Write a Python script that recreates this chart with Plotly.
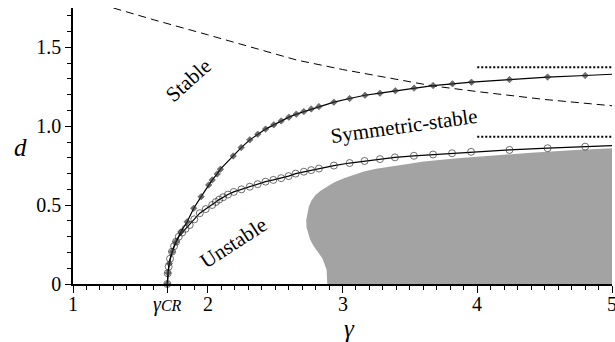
import plotly.graph_objects as go

# Symmetric-stable boundary (filled diamonds)
gam_sym = [1.70, 1.705, 1.715, 1.735, 1.765, 1.80, 1.847, 1.896, 1.951, 2.007, 2.033, 2.07, 2.094,
           2.189, 2.248, 2.312, 2.371, 2.429, 2.49, 2.545, 2.602, 2.657, 2.713, 2.768, 2.825, 2.936,
           3.053, 3.167, 3.278, 3.392, 3.531, 3.672, 3.816, 3.957, 4.239, 4.522, 4.801, 5.0]
d_sym = [0.0, 0.07, 0.13, 0.205, 0.268, 0.33, 0.395, 0.48, 0.554, 0.628, 0.66, 0.698, 0.728,
         0.812, 0.865, 0.914, 0.95, 0.982, 1.009, 1.034, 1.058, 1.077, 1.093, 1.11, 1.125, 1.153,
         1.176, 1.197, 1.21, 1.225, 1.242, 1.258, 1.269, 1.28, 1.296, 1.312, 1.322, 1.33]

# Unstable boundary (open circles)
gam_uns = [1.70, 1.703, 1.71, 1.72, 1.735, 1.75, 1.765, 1.785, 1.81, 1.835, 1.866, 1.90, 1.941,
           1.985, 2.033, 2.06, 2.085, 2.114, 2.15, 2.193, 2.25, 2.312, 2.37, 2.429, 2.487, 2.545,
           2.60, 2.652, 2.713, 2.768, 2.825, 2.936, 3.053, 3.164, 3.278, 3.389, 3.53, 3.672, 3.813,
           3.954, 4.239, 4.522, 4.801, 5.0]
d_uns = [0.0, 0.068, 0.11, 0.16, 0.205, 0.24, 0.268, 0.30, 0.326, 0.35, 0.374, 0.41, 0.449,
         0.475, 0.501, 0.52, 0.535, 0.55, 0.567, 0.584, 0.60, 0.617, 0.633, 0.649, 0.66, 0.671,
         0.684, 0.70, 0.712, 0.722, 0.732, 0.751, 0.767, 0.78, 0.792, 0.803, 0.813, 0.821, 0.829,
         0.838, 0.85, 0.861, 0.871, 0.877]

# Stability limit (dashed)
gam_stab = [1.3, 1.6, 2.0, 2.4, 2.66, 3.0, 3.4, 3.67, 4.0, 4.5, 5.0]
d_stab = [1.75, 1.675, 1.58, 1.485, 1.42, 1.36, 1.30, 1.256, 1.22, 1.17, 1.13]

# Asymptotes (dotted)
gam_asym = [4.0, 5.0]
d_asym_upper = [1.375, 1.375]
d_asym_lower = [0.933, 0.933]

# Gray region boundary
gray_g = [2.887, 2.882, 2.865, 2.85, 2.82, 2.788, 2.76, 2.743, 2.733, 2.731, 2.738, 2.75, 2.77,
          2.80, 2.84, 2.887, 2.94, 3.01, 3.08, 3.159, 3.25, 3.357, 3.48, 3.605, 3.853, 4.1, 4.4,
          4.7, 5.0, 5.0]
gray_d = [0.0, 0.09, 0.13, 0.163, 0.20, 0.237, 0.28, 0.322, 0.36, 0.406, 0.45, 0.49, 0.53,
          0.565, 0.593, 0.617, 0.645, 0.671, 0.693, 0.713, 0.73, 0.744, 0.76, 0.776, 0.798, 0.815,
          0.832, 0.848, 0.86, 0.0]

x_tickvals = [1, 1.7, 2, 3, 4, 5]
x_ticktext = ["1", "<i>γ<span style='font-size:16px'>CR</span></i>", "2", "3", "4", "5"]
y_tickvals = [0, 0.5, 1.0, 1.5]
y_ticktext = ["0", "0.5", "1.0", "1.5"]

region_labels = ["Stable", "Symmetric-stable", "Unstable"]
label_g = [1.859, 3.455, 2.189]
label_d = [1.294, 1.0, 0.262]
label_angle = [-42, -8, -33]

FONT = "Liberation Serif"

fig = go.Figure()
fig.add_trace(go.Scatter(x=gray_g, y=gray_d, fill="toself", fillcolor="#a3a3a3",
                         line=dict(width=0, color="#a3a3a3"), mode="lines",
                         hoverinfo="skip", showlegend=False))
fig.add_trace(go.Scatter(x=gam_stab, y=d_stab, mode="lines",
                         line=dict(color="black", width=1, dash="8px,5px"), showlegend=False))
fig.add_trace(go.Scatter(x=gam_asym, y=d_asym_upper, mode="lines",
                         line=dict(color="black", width=2, dash="2px,2px"), showlegend=False))
fig.add_trace(go.Scatter(x=gam_asym, y=d_asym_lower, mode="lines",
                         line=dict(color="black", width=2, dash="2px,2px"), showlegend=False))
fig.add_trace(go.Scatter(x=gam_uns, y=d_uns, mode="lines+markers",
                         line=dict(color="black", width=1.2),
                         marker=dict(symbol="circle-open", size=[7] * (len(gam_uns) - 1) + [0],
                                     color="#333333", line=dict(width=1)),
                         cliponaxis=False, showlegend=False))
fig.add_trace(go.Scatter(x=gam_sym, y=d_sym, mode="lines+markers",
                         line=dict(color="black", width=1.2),
                         marker=dict(symbol="diamond", size=[5] * (len(gam_sym) - 1) + [0],
                                     color="#333333", line=dict(width=0.5, color="black")),
                         cliponaxis=False, showlegend=False))

for txt, gx, gy, ang in zip(region_labels, label_g, label_d, label_angle):
    fig.add_annotation(x=gx, y=gy, text=txt, textangle=ang, showarrow=False,
                       font=dict(family=FONT, size=21, color="black"),
                       xanchor="center", yanchor="middle")

# x tick labels placed as annotations for exact vertical placement
for tv, tt in zip(x_tickvals, x_ticktext):
    fig.add_annotation(x=tv, xref="x", yref="paper", y=0, yshift=-20, text=tt,
                       showarrow=False, font=dict(family=FONT, size=20, color="black"),
                       xanchor="center", yanchor="middle")

fig.add_annotation(xref="paper", yref="paper", x=-0.098, y=0.493, text="<i>d</i>",
                   showarrow=False, font=dict(family=FONT, size=25, color="black"),
                   xanchor="center", yanchor="middle")
fig.add_annotation(xref="paper", yref="paper", x=(349 - 73) / 539, y=-0.16, text="<i>γ</i>",
                   showarrow=False, font=dict(family=FONT, size=25, color="black"),
                   xanchor="center", yanchor="middle")

fig.update_xaxes(range=[1, 5], tickmode="array", tickvals=x_tickvals, showticklabels=False,
                 ticks="outside", ticklen=7, tickwidth=1, tickcolor="black",
                 showline=True, linecolor="black", linewidth=1.5, showgrid=False, zeroline=False,
                 minor=dict(ticks="outside", ticklen=4, tickwidth=1, tickcolor="black",
                            tickmode="linear", tick0=1, dtick=0.1, showgrid=False))
fig.update_yaxes(range=[0, 1.75], tickmode="array", tickvals=y_tickvals, ticktext=y_ticktext,
                 ticks="outside", ticklen=6, tickwidth=1, tickcolor="black",
                 showline=True, linecolor="black", linewidth=1.5, showgrid=False, zeroline=False,
                 tickfont=dict(family=FONT, size=20, color="black"),
                 minor=dict(ticks="outside", ticklen=4, tickwidth=1, tickcolor="black",
                            tickmode="linear", tick0=0, dtick=0.1, showgrid=False))

fig.update_layout(width=615, height=342, margin=dict(l=73, r=3, t=8, b=58),
                  plot_bgcolor="white", paper_bgcolor="white",
                  font=dict(family=FONT, color="black"),
                  template="none")

fig.write_html("out.html")
